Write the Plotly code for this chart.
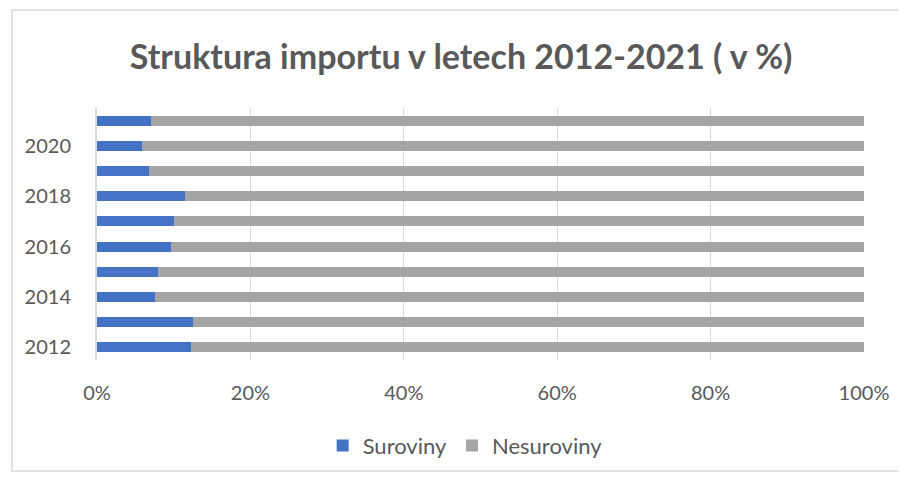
import plotly.graph_objects as go

years = ["2012", "2013", "2014", "2015", "2016", "2017", "2018", "2019", "2020", "2021"]
suroviny = [12.3, 12.5, 7.5, 8.0, 9.7, 10.0, 11.5, 6.8, 5.9, 7.0]
nesuroviny = [87.7, 87.5, 92.5, 92.0, 90.3, 90.0, 88.5, 93.2, 94.1, 93.0]
year_ticks = ["2012", "2014", "2016", "2018", "2020"]
x_ticks = [0, 0.2, 0.4, 0.6, 0.8, 1.0]

font_family = "Lato, 'Open Sans', sans-serif"
grey_text = "#595959"

fig = go.Figure()
fig.add_trace(go.Bar(
    y=years, x=[v / 100 for v in suroviny], name="Suroviny", orientation="h",
    marker=dict(color="#4472c4", line=dict(width=0)),
))
fig.add_trace(go.Bar(
    y=years, x=[v / 100 for v in nesuroviny], name="Nesuroviny", orientation="h",
    marker=dict(color="#a5a5a5", line=dict(width=0)),
))

fig.update_layout(
    width=899, height=469,
    barmode="stack", bargap=0.6,
    paper_bgcolor="white", plot_bgcolor="white",
    margin=dict(l=89, r=43, t=100, b=117, autoexpand=False),
    font=dict(family=font_family, color=grey_text, size=20),
    title=dict(
        text="<b>Struktura importu v letech 2012-2021 ( v %)</b>",
        x=0.504, xanchor="center", y=0.896, yanchor="middle",
        font=dict(family=font_family, size=34, color=grey_text),
    ),
    xaxis=dict(
        range=[0, 1], tickvals=x_ticks, tickformat=".0%",
        showgrid=True, gridcolor="#d9d9d9", gridwidth=1,
        zeroline=False, showline=False, ticks="", ticklabelstandoff=19,
        tickfont=dict(size=20, color=grey_text),
    ),
    yaxis=dict(
        type="category", categoryorder="array", categoryarray=years,
        tickvals=year_ticks, ticktext=year_ticks,
        showline=True, linecolor="#d9d9d9", linewidth=2,
        showgrid=False, ticks="", ticklabelstandoff=20,
        tickfont=dict(size=20, color=grey_text),
    ),
    legend=dict(
        orientation="h", traceorder="normal",
        x=0.48, xanchor="center", y=-0.34, yanchor="middle",
        font=dict(size=22, color=grey_text), itemwidth=30,
    ),
    shapes=[dict(
        type="rect", xref="paper", yref="paper",
        x0=-0.111, x1=1.052, y0=-0.44, y1=1.389,
        line=dict(color="#d9d9d9", width=1.5),
    )],
)

fig.write_html("out.html")
